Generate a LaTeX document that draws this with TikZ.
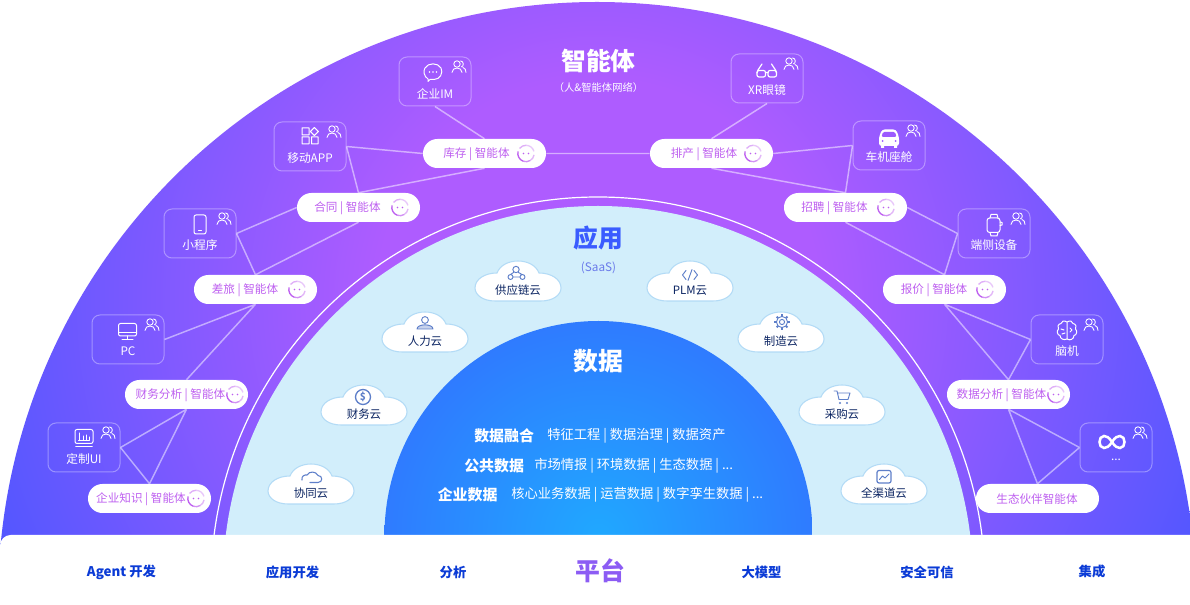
\documentclass[tikz,border=0pt]{standalone}
\usepackage{fontspec}
\setmainfont{Noto Sans CJK SC}
\definecolor{ringa}{HTML}{AE5CFF}
\definecolor{ringb}{HTML}{5257FF}
\definecolor{dataa}{HTML}{20A8FF}
\definecolor{datab}{HTML}{2F7BFF}
\definecolor{sky}{HTML}{D2EEFB}
\definecolor{cloudedge}{HTML}{B3DBF6}
\definecolor{cloudicon}{HTML}{5E7FC9}
\definecolor{cloudtext}{HTML}{0B2462}
\definecolor{pilltext}{HTML}{BE60F0}
\definecolor{footblue}{HTML}{0B3BD6}
\definecolor{apptitle}{HTML}{3A5CFF}
\definecolor{saastext}{HTML}{6B7BEA}
\definecolor{plattitle}{HTML}{8C5CF4}
\pgfdeclareradialshading{ringshade}{\pgfpoint{0bp}{0bp}}{color(0bp)=(ringa); color(8.5bp)=(ringa); color(25bp)=(ringb); color(50bp)=(ringb)}
\pgfdeclareradialshading{datashade}{\pgfpoint{0bp}{0bp}}{color(0bp)=(dataa); color(25bp)=(datab); color(50bp)=(datab)}
\tikzset{
  cardbox/.style={draw=white,draw opacity=.35,line width=.75pt,rounded corners=6pt,minimum width=54pt,minimum height=36.75pt,inner sep=0pt},
  cardtxt/.style={text=white,inner sep=0pt,font=\fontsize{8.8pt}{10pt}\selectfont},
  pillbox/.style={fill=white,rounded corners=10.8pt,minimum width=92.25pt,minimum height=21.75pt,inner sep=0pt},
  pilltxt/.style={text=pilltext,inner sep=0pt,font=\fontsize{8.7pt}{10pt}\selectfont},
  linkline/.style={draw=white,draw opacity=.5,line width=1.1pt},
  cloudline/.style={draw=cloudedge,fill=white,line width=.8pt},
  cloudtxt/.style={text=cloudtext,inner sep=0pt,font=\fontsize{8.6pt}{10pt}\selectfont},
  ico/.style={draw=white,line width=.75pt,line cap=round,line join=round},
  cico/.style={draw=cloudicon,line width=.7pt,line cap=round,line join=round},
  title/.style={inner sep=0pt,font=\fontsize{18.6pt}{22pt}\selectfont\bfseries},
  footlabel/.style={text=footblue,inner sep=0pt,font=\fontsize{10pt}{12pt}\selectfont\bfseries},
  databold/.style={text=white,inner sep=0pt,anchor=west,font=\fontsize{11.2pt}{13pt}\selectfont\bfseries},
  datareg/.style={text=white,inner sep=0pt,anchor=west,font=\fontsize{9.95pt}{12pt}\selectfont},
  persons/.pic={
    \draw[draw=white,line width=.65pt,line cap=round] (-2,-2.5) circle[radius=3.2];
    \draw[draw=white,line width=.65pt,line cap=round] (-7,6) .. controls (-7,0) and (3,0) .. (3,6);
    \draw[draw=white,line width=.65pt,line cap=round] (1.5,-5.5) .. controls (5,-5.5) and (5,0) .. (2.5,0.3);
    \draw[draw=white,line width=.65pt,line cap=round] (4,1) .. controls (6,1.5) and (7,3.5) .. (7,6);
  },
  pillicon/.pic={
    \foreach \a/\b/\c in {218/270/50,270/345/35,370/420/45,420/470/70,470/555/100}{
      \draw[draw=pilltext!\c!white,line width=1pt] (\a:8.2) arc[start angle=\a,end angle=\b,radius=8.2];
    }
    \fill[pilltext] (-2.5,0) circle[radius=.8] (2.5,0) circle[radius=.8];
  }
}
\newcommand\cardnode[4]{%
  \node[cardbox] (#1) at ({#2+36},{#3+24.5}) {};
  \node[cardtxt] (#1txt) at ({#2+36},{#3+36.5}) {#4};
  \pic at ({#2+60},{#3+9.5}) {persons};
}
\newcommand\pillnode[6]{%
  \node[pillbox] (#1) at ({#2+61.5},{#3+14.5}) {};
  \node[pilltxt] (#1txt) at (#5,{#3+15.3}) {#4};
  \pic at (#6,{#3+14.5}) {pillicon};
}
\newcommand\cloudnode[4]{%
  \draw[cloudline,shift={(#2,#3)}] (20,40) .. controls (8,40) and (0,34) .. (0,27) .. controls (0,18) and (10,12) .. (22,12)
    .. controls (25,4) and (34,0) .. (43,0) .. controls (52,0) and (61,4) .. (64,12)
    .. controls (76,12) and (86,18) .. (86,27) .. controls (86,34) and (78,40) .. (66,40) -- cycle;
  \node[cloudtxt] (#1) at ({#2+43},{#3+29.5}) {#4};
}
\begin{document}
\begin{tikzpicture}[x=.75pt,y=-.75pt]
\useasboundingbox (0,0) rectangle (1190,605);
\fill[white] (0,0) rectangle (1190,605);
% outer band
\begin{scope}
  \clip (597,601) circle[radius=599];
  \shade[shading=ringshade] (-52,-350) rectangle (1248,950);
\end{scope}
% white ring line and pale blue application band
\draw[white,line width=.9pt] (598,584) circle[radius=387];
\fill[sky] (598,581) circle[radius=375];
% data half disc
\begin{scope}
  \clip (598.5,535) circle[radius=214];
  \shade[shading=datashade] (384.5,321) rectangle (812.5,749);
\end{scope}
% platform strip
\fill[white] (0,605) [rounded corners=8pt] -- (0,535) -- (600,535) [sharp corners] -- (1190,535) -- (1190,605) -- cycle;

% cards
\cardnode{im}{399}{57}{企业IM}
\cardnode{app}{274}{122}{移动APP}
\cardnode{mini}{164}{209}{小程序}
\cardnode{pc}{92}{315}{PC}
\cardnode{ui}{48}{423}{定制UI}
\cardnode{xr}{731}{54}{XR眼镜}
\cardnode{car}{853}{121}{车机座舱}
\cardnode{edge}{958}{209}{端侧设备}
\cardnode{bci}{1031}{315}{脑机}
\cardnode{inf}{1080}{423}{...}

% pills
\pillnode{stock}{423}{139}{库存 | 智能体}{476.5}{526}
\pillnode{contract}{297}{193}{合同 | 智能体}{347.5}{400}
\pillnode{travel}{194}{275}{差旅 | 智能体}{245}{297}
\pillnode{fin}{125}{380}{财务分析 | 智能体}{180.5}{235}
\pillnode{know}{88}{484}{企业知识 | 智能体}{141}{196}
\pillnode{sched}{650}{139}{排产 | 智能体}{704}{753}
\pillnode{hire}{784}{193}{招聘 | 智能体}{834.5}{886}
\pillnode{quote}{883}{275}{报价 | 智能体}{934}{985}
\pillnode{ana}{947}{380}{数据分析 | 智能体}{1001.5}{1056}
\node[pillbox] (eco) at (1037.5,498.5) {};
\node[pilltxt] (ecotxt) at (1037,499) {生态伙伴智能体};

% connectors
\path[linkline]
  (im.south) -- (stock.north)
  (app.east) -- (stock.west)
  (app.east) -- (contract.north)
  (contract.north) -- (stock.south)
  (stock.east) -- (sched.west)
  (contract.west) -- (mini.east)
  (contract.south) -- (travel.north)
  (mini.east) -- (travel.north)
  (travel.south) -- (pc.east)
  (travel.south) -- (fin.north)
  (fin.south) -- (ui.east)
  (fin.south) -- (know.north)
  (ui.east) -- (know.north)
  (xr.south) -- (sched.north)
  (sched.east) -- (car.west)
  (sched.south) -- (hire.north)
  (car.west) -- (hire.north)
  (hire.east) -- (edge.west)
  (hire.south) -- (quote.north)
  (edge.west) -- (quote.north)
  (quote.south) -- (bci.west)
  (quote.south) -- (ana.north)
  (bci.west) -- (ana.north)
  (ana.south) -- (inf.west)
  (ana.south) -- (eco.north)
  (inf.west) -- (eco.north);

% card icons
% chat
\draw[ico,shift={(433,72)}] (-5,7) .. controls (-9,4.5) and (-10,-1) .. (-8,-4) .. controls (-5,-9.5) and (5,-9.5) .. (8,-4) .. controls (10.5,1) and (7,7.5) .. (1,7.5) .. controls (-1,7.5) and (-2,7.5) .. (-3,7.5) -- (-5,9.5) -- cycle;
\fill[white] (429.5,72) circle[radius=.8] (433,72) circle[radius=.8] (436.5,72) circle[radius=.8];
% apps
\draw[ico,shift={(310,136)}] (-8,-8) rectangle (-1,-1) (-8,1) rectangle (-1,8) (1.5,1) rectangle (8,8) (4.4,-8.5) -- (8.4,-4.5) -- (4.4,-.5) -- (.4,-4.5) -- cycle;
% phone
\draw[ico,rounded corners=1.5pt] (194,215) rectangle (206,234);
\draw[ico] (198.5,231) -- (201.5,231);
% monitor
\draw[ico,rounded corners=1.5pt] (118.5,323.5) rectangle (136.5,336);
\draw[ico] (118.5,332.5) -- (136.5,332.5) (127.5,336) -- (127.5,339) (122,339.5) -- (133,339.5);
% dashboard
\draw[ico,rounded corners=1.5pt] (75,429.5) rectangle (93,443.5);
\draw[ico] (78.5,441) -- (89.5,441) (79,433) -- (79,440) (83,436) -- (83,440) (86,435) -- (86,440) (89,437) -- (89,440);
\draw[ico,line width=1.2pt] (76,446.5) -- (92,446.5);
% glasses
\draw[ico,line width=.9pt,rounded corners=1.5pt] (757,70.5) rectangle (765.5,77) (768,70.5) rectangle (776.5,77);
\draw[ico,line width=.9pt] (765.5,72.5) -- (768,72.5) (757,73) -- (758,70) -- (762,64) (776.5,73) -- (775.5,70) -- (771.5,64);
% car
\fill[white,rounded corners=2pt] (882,129.5) -- (896,129.5) -- (899,137) -- (899,146) -- (879,146) -- (879,137) -- cycle;
\fill[white] (881,145) rectangle (884,148) (894,145) rectangle (897,148);
\fill[ringa!80!ringb,rounded corners=1pt] (883,132) -- (895,132) -- (896.5,137) -- (881.5,137) -- cycle;
\fill[ringa!80!ringb] (882.5,141) circle[radius=1] (895.5,141) circle[radius=1];
% watch
\draw[ico,rounded corners=2pt] (987,218) rectangle (1000,232.5);
\draw[ico] (990,218) -- (991,214.5) -- (997,214.5) -- (998,218) (990,232.5) -- (991,236) -- (997,236) -- (998,232.5);
\draw[ico] (1000,222) -- (1002,222.5) -- (1002,225) -- (1000,225.5);
% brain
\draw[ico,shift={(1067,331)}] (0,-9) .. controls (-3,-11) and (-6,-9.5) .. (-6,-7.5) .. controls (-9,-7) and (-10,-4) .. (-8.5,-2) .. controls (-10.5,0) and (-10,4) .. (-7,4.5) .. controls (-7,8) and (-3,9.5) .. (0,8)
  .. controls (3,10) and (7,8) .. (7,4.5) .. controls (10,4) and (10.5,0) .. (8.5,-2) .. controls (10,-4) and (9,-7) .. (6,-7.5) .. controls (6,-9.5) and (3,-11) .. (0,-9) -- (0,8);
\draw[ico,shift={(1067,331)}] (-6,-2) -- (-3,-1) (-5,3) -- (-2,2) (3,-3) -- (5,-1) -- (3,1);
% infinity
\draw[draw=white,line width=1.9pt,shift={(1112,442)}] (0,0) .. controls (-3,-5) and (-6,-6) .. (-8,-6) .. controls (-11,-6) and (-12.5,-3) .. (-12.5,0) .. controls (-12.5,3) and (-11,6) .. (-8,6) .. controls (-6,6) and (-3,5) .. (0,0)
  .. controls (3,-5) and (6,-6) .. (8,-6) .. controls (11,-6) and (12.5,-3) .. (12.5,0) .. controls (12.5,3) and (11,6) .. (8,6) .. controls (6,6) and (3,5) .. (0,0) -- cycle;

% titles
\node[title,text=white] (ttop) at (598.5,60.5) {智能体};
\node[text=white,inner sep=0pt,font=\fontsize{7.7pt}{9pt}\selectfont] (tsub) at (598.5,88) {（人\&智能体网络）};
\node[title,text=apptitle] (tapp) at (598,238.5) {应用};
\node[text=saastext,inner sep=0pt,font=\fontsize{8.8pt}{10pt}\selectfont] (tsaas) at (598.5,267.5) {(SaaS)};
\node[title,text=white] (tdata) at (598.5,361) {数据};

% clouds
\cloudnode{scm}{475}{261}{供应链云}
\cloudnode{plm}{647}{261}{PLM云}
\cloudnode{hr}{382}{312}{人力云}
\cloudnode{mfg}{738}{312}{制造云}
\cloudnode{fina}{321}{385}{财务云}
\cloudnode{buy}{799}{385}{采购云}
\cloudnode{colla}{268}{464}{协同云}
\cloudnode{omni}{841}{464}{全渠道云}

% cloud icons
\draw[cico] (516,269.5) circle[radius=3.2] (510.5,277) circle[radius=2.5] (522.5,277) circle[radius=2.5] (513.5,272.5) -- (510.5,274.5) (518.5,272.5) -- (522,274.5) (513,277) -- (520,277);
\draw[cico] (686,270.5) -- (682.5,275) -- (686,279.5) (694,270.5) -- (697.5,275) -- (694,279.5) (692,269.5) -- (688,280.5);
\draw[cico] (425,320) circle[radius=3.4];
\draw[cico,fill=cloudicon!35] (417,329) .. controls (417,323.5) and (433,323.5) .. (433,329) -- cycle;
\draw[cico] (782,322) circle[radius=2.6] (782,322) circle[radius=5.6];
\foreach \t in {0,45,...,315}{\draw[cico,line width=1.5pt,line cap=butt,shift={(782,322)}] (\t:5.6) -- (\t:7.6);}
\draw[cico,line width=1pt] (363,397) circle[radius=7.5];
\node[text=cloudicon,inner sep=0pt,font=\fontsize{7.5pt}{9pt}\selectfont\bfseries] (dollar) at (363,397) {\$};
\draw[cico,line width=.8pt] (302,480) .. controls (301,476) and (305,474.5) .. (307,475) .. controls (309,471) and (316,471) .. (318,475.5) .. controls (323,475.5) and (323,482.5) .. (318,482.5) -- (310,482.5);
\draw[cico] (834,391) -- (837,391) -- (839,399.5) -- (848,399.5) -- (850,393) -- (838,393);
\fill[cloudicon] (840,403) circle[radius=1.1] (847,403) circle[radius=1.1];
\draw[cico,rounded corners=1.5pt,line width=.9pt] (877,470.5) rectangle (891,483);
\draw[cico] (879.5,479.5) -- (882.5,476) -- (885,478) -- (889,474);

% data text
\node[databold] (d1a) at (474,436) {数据融合};
\node[datareg] (d1b) at (547,436) {特征工程 | 数据治理 | 数据资产};
\node[databold] (d2a) at (464,466) {公共数据};
\node[datareg] (d2b) at (534,466) {市场情报 | 环境数据 | 生态数据 | ...};
\node[databold] (d3a) at (437.5,495) {企业数据};
\node[datareg] (d3b) at (511,495) {核心业务数据 | 运营数据 | 数字孪生数据 | ...};

% footer
\node[footlabel] (f1) at (121.5,572) {Agent 开发};
\node[footlabel] (f2) at (292.5,572) {应用开发};
\node[footlabel] (f3) at (453,572) {分析};
\node[title,text=plattitle] (f4) at (600,571) {平台};
\node[footlabel] (f5) at (761.5,572) {大模型};
\node[footlabel] (f6) at (927,572) {安全可信};
\node[footlabel] (f7) at (1092,571) {集成};
\end{tikzpicture}
\end{document}
